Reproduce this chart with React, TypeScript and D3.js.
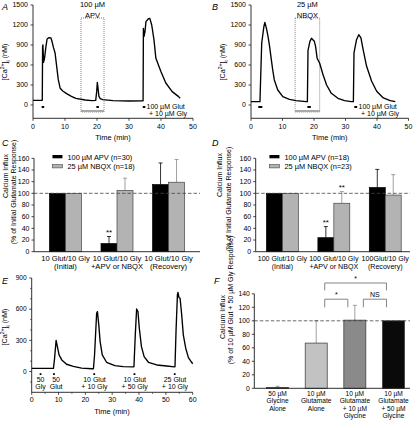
import React from 'react';
import * as d3 from 'd3';

const FONT = '"Liberation Sans", Arial, Helvetica, sans-serif';

// ---------- Panel A (APV) trace ----------
const traceATime = [0, 2.9, 3.0, 3.1, 3.3, 3.6, 4.0, 4.4, 5.0, 5.6, 5.9, 6.4, 6.9, 7.4, 7.9, 8.5, 9.3, 10.5, 12, 13.4, 16.3, 18.4, 19.6, 19.9, 20.1, 20.3, 20.6, 21.0, 21.8, 25, 30, 34.4, 34.5, 34.7, 35.0, 35.3, 36.0, 36.5, 37.1, 37.8, 38.4, 40.0, 41.5, 43.5, 45.5, 46.0];
const traceAConc = [70, 70, 880, 900, 640, 700, 860, 990, 1010, 1005, 960, 860, 780, 580, 380, 250, 210, 170, 130, 100, 75, 65, 70, 200, 340, 260, 130, 95, 80, 65, 60, 62, 1150, 1030, 1100, 1250, 1290, 1300, 1200, 980, 700, 500, 330, 200, 125, 100];
const traceAStimuli = [[2.7, 3.5], [19.8, 20.6], [34.3, 35.1]];
const traceAWindow = [15, 22.2];

// ---------- Panel B (NBQX) trace ----------
const traceBTime = [0, 2.85, 3.0, 3.4, 4.1, 4.4, 4.9, 5.4, 5.9, 6.4, 6.9, 7.4, 8.5, 10.1, 12.2, 14.3, 17.5, 17.9, 18.1, 18.7, 19.2, 20.1, 20.5, 21.0, 21.8, 22.9, 24.0, 25.5, 27.6, 29.7, 31.8, 32.5, 32.7, 33.5, 34.2, 34.9, 35.6, 36.7, 38.3, 39.9, 42.0, 44.2, 45.8];
const traceBConc = [50, 50, 300, 930, 1180, 1240, 1150, 1030, 880, 700, 525, 375, 225, 125, 85, 65, 50, 50, 820, 955, 1000, 955, 880, 700, 625, 450, 300, 175, 100, 65, 50, 50, 780, 980, 1055, 1005, 830, 580, 355, 205, 105, 65, 50];
const traceBStimuli = [[2.3, 3.6], [17.9, 19.0], [32.8, 33.7]];
const traceBWindow = [14, 21.8];

const timeTicks = [0, 10, 20, 30, 40, 50];
const concTicks = [0, 300, 600, 900, 1200, 1500];

// ---------- Panel C ----------
const groupsC = ['Initial', 'Drug', 'Recovery'];
const groupLabelsC = [['10 Glut/10 Gly', '(Initial)'], ['10 Glut/10 Gly', '+APV or NBQX'], ['10 Glut/10 Gly', '(Recovery)']];
const apvC = [100, 14, 115];
const apvErrC = [0, 12, 37];
const nbqxC = [100, 105, 119];
const nbqxErrC = [0, 21, 39];
const sigC = [{ group: 'Drug', series: 'apv', label: '**' }];
const legendC = ['100 µM APV (n=30)', '25 µM NBQX (n=18)'];

// ---------- Panel D ----------
const groupsD = ['Initial', 'Drug', 'Recovery'];
const groupLabelsD = [['100 Glut/10 Gly', '(Initial)'], ['100 Glut/10 Gly', '+APV or NBQX'], ['100Glut/10 Gly', '(Recovery)']];
const apvD = [100, 24, 110];
const apvErrD = [0, 19, 31];
const nbqxD = [100, 83, 97];
const nbqxErrD = [0, 20, 35];
const sigD = [{ group: 'Drug', series: 'apv', label: '**' }, { group: 'Drug', series: 'nbqx', label: '**' }];
const legendD = ['100 µM APV (n=18)', '25 µM NBQX (n=23)'];

const pctTicks = [0, 20, 40, 60, 80, 100, 120, 140, 160];

// ---------- Panel E trace ----------
const traceETime = [0, 8.1, 8.5, 9.1, 9.5, 10.2, 11.2, 13.0, 15.5, 18.6, 22.4, 23.0, 23.4, 24.2, 24.5, 25.0, 25.5, 26.3, 27.9, 31.0, 34.1, 37.9, 38.1, 38.6, 39.1, 39.6, 40.1, 40.9, 41.9, 43.5, 46.6, 50.3, 53.2, 53.4, 53.8, 54.3, 54.5, 54.9, 55.3, 55.9, 56.5, 57.4, 58.4, 59.6, 60.0];
const traceEConc = [30, 30, 120, 300, 250, 160, 112, 70, 50, 32, 27, 27, 150, 560, 576, 449, 288, 160, 89, 57, 47, 45, 47, 350, 602, 576, 417, 240, 143, 89, 63, 53, 45, 47, 400, 737, 762, 711, 705, 545, 353, 224, 134, 89, 75];
const stimTimesE = [3.3, 8.3, 23.3, 38.3, 53.3];
const stimLabelTimesE = [3.3, 9.1, 23.4, 38.4, 53.4];
const stimLine1E = ['50', '50', '10 Glut', '10 Glut', '25 Glut'];
const stimLine2E = ['Gly', 'Glut', '+ 10 Gly', '+ 50 Gly', '+ 10 Gly'];
const timeTicksE = [0, 10, 20, 30, 40, 50, 60];
const timeMinorE = [5, 15, 25, 35, 45, 55];
const concTicksE = [0, 300, 600, 900];
const concMinorE = [-100, 100, 200, 400, 500, 700, 800];

// ---------- Panel F ----------
const catsF = ['gly', 'glut', 'glut10', 'glut50'];
const catLabelsF = [['50 µM', 'Glycine', 'Alone'], ['10 µM', 'Glutamate', 'Alone'], ['10 µM', 'Glutamate', '+ 10 µM', 'Glycine'], ['10 µM', 'Glutamate', '+ 50 µM', 'Glycine']];
const valuesF = [1, 67, 101, 100];
const errF = [2, 33, 22, 0];
const colorsF = ['#111111', '#c2c2c2', '#8a8a8a', '#0a0a0a'];
const bracketsF = [
  { from: 'glut', to: 'glut50', level: 156, leg: 145, label: '*' },
  { from: 'glut', to: 'glut10', level: 132, leg: 120, label: '*' },
  { from: 'glut10', to: 'glut50', level: 132, leg: 120, label: 'NS' },
];
const pctTicksF = [0, 20, 40, 60, 80, 100, 120, 140];

const AX = '#1a1a1a';
const TX = '#000';

function CaLabel({ x, y, size = 7.2 }: { x: number; y: number; size?: number }) {
  return (
    <text transform={`translate(${x},${y}) rotate(-90)`} textAnchor="middle" fontSize={size} fontFamily={FONT} fill={TX}>
      {'[Ca'}
      <tspan baselineShift="super" fontSize={size * 0.7}>2+</tspan>
      <tspan>{']'}</tspan>
      <tspan baselineShift="sub" fontSize={size * 0.7}>i</tspan>
      <tspan>{' (nM)'}</tspan>
    </text>
  );
}

function YAxis({ scale, x, ticks, minor = [], fs = 7, gap = 5 }: any) {
  const [r0, r1] = scale.range();
  return (
    <g>
      <line x1={x} x2={x} y1={r0} y2={r1} stroke={AX} strokeWidth={0.9} />
      {ticks.map((t: number) => (
        <g key={t}>
          <line x1={x - 2.5} x2={x} y1={scale(t)} y2={scale(t)} stroke={AX} strokeWidth={0.8} />
          <text x={x - gap} y={scale(t)} dy="0.35em" textAnchor="end" fontSize={fs} fontFamily={FONT} fill={TX}>{t}</text>
        </g>
      ))}
      {minor.map((t: number) => (
        <line key={'m' + t} x1={x - 1.5} x2={x} y1={scale(t)} y2={scale(t)} stroke={AX} strokeWidth={0.7} />
      ))}
    </g>
  );
}

function XAxis({ scale, y, ticks, minor = [], fs = 7, gap = 10.5 }: any) {
  const [r0, r1] = scale.range();
  return (
    <g>
      <line x1={r0} x2={r1} y1={y} y2={y} stroke={AX} strokeWidth={0.9} />
      {ticks.map((t: number) => (
        <g key={t}>
          <line x1={scale(t)} x2={scale(t)} y1={y} y2={y + 2.5} stroke={AX} strokeWidth={0.8} />
          <text x={scale(t)} y={y + gap} textAnchor="middle" fontSize={fs} fontFamily={FONT} fill={TX}>{t}</text>
        </g>
      ))}
      {minor.map((t: number) => (
        <line key={'m' + t} x1={scale(t)} x2={scale(t)} y1={y} y2={y + 1.5} stroke={AX} strokeWidth={0.7} />
      ))}
    </g>
  );
}

function TracePanel({ letter, letterX, xs, ys, times, concs, stimuli, windowT, title, legendX, labelX }: any) {
  const line = d3.line<number>().x((i) => xs(times[i])).y((i) => ys(concs[i]));
  const idx = times.map((_: number, i: number) => i);
  const [x0, x1] = xs.range();
  const cx = (xs(windowT[0]) + xs(windowT[1])) / 2;
  return (
    <g fontFamily={FONT}>
      <text x={letterX} y={10} fontSize={9} fontStyle="italic" fill={TX}>{letter}</text>
      <rect x={xs(windowT[0])} y={ys(1305)} width={xs(windowT[1]) - xs(windowT[0])} height={ys(-105) - ys(1305)} fill="none" stroke="#555" strokeWidth={0.7} strokeDasharray="1,1" />
      <line x1={xs(windowT[0])} x2={xs(windowT[1])} y1={ys(-90)} y2={ys(-90)} stroke="#999" strokeWidth={1.6} />
      <text x={cx} y={6.5} textAnchor="middle" fontSize={7.5} fill={TX}>{title[0]}</text>
      <text x={cx} y={17.5} textAnchor="middle" fontSize={7.5} fill={TX}>{title[1]}</text>
      <path d={line(idx) || ''} fill="none" stroke="#000" strokeWidth={1.35} strokeLinejoin="round" />
      {stimuli.map((s: number[], i: number) => (
        <line key={i} x1={xs(s[0])} x2={xs(s[1])} y1={ys(-30)} y2={ys(-30)} stroke="#000" strokeWidth={2} />
      ))}
      <text x={legendX} y={108.7} fontSize={7} fill={TX}>100 µM Glut</text>
      <text x={legendX + 2.5} y={116} fontSize={7} fill={TX}>+ 10 µM Gly</text>
      <YAxis scale={ys} x={x0} ticks={concTicks} />
      <XAxis scale={xs} y={ys(-200)} ticks={timeTicks} />
      <text x={(x0 + x1) / 2} y={139.5} textAnchor="middle" fontSize={7.5} fill={TX}>Time (min)</text>
      <CaLabel x={labelX} y={62} />
    </g>
  );
}

function BarPanel({ letter, letterX, groups, groupLabels, apv, apvErr, nbqx, nbqxErr, sig, legend, xRange, po, align, ylab1X, ylab2X, ylab1Y, ylab2Y, labFs }: any) {
  const y = d3.scaleLinear().domain([0, 160]).range([251.7, 158.3]);
  const xg = d3.scaleBand<string>().domain(groups).range(xRange).paddingInner(0.38).paddingOuter(po).align(align);
  const xs = d3.scaleBand<string>().domain(['apv', 'nbqx']).range([0, xg.bandwidth()]);
  const series = [
    { key: 'apv', vals: apv, errs: apvErr, fill: '#000', stroke: '#000', err: '#000' },
    { key: 'nbqx', vals: nbqx, errs: nbqxErr, fill: '#b3b3b3', stroke: '#444', err: '#888' },
  ];
  const bw = xs.bandwidth();
  const lx = xg(groups[0])! + 3;
  return (
    <g fontFamily={FONT}>
      <text x={letterX} y={146} fontSize={9} fontStyle="italic" fill={TX}>{letter}</text>
      {series.map((s) => groups.map((g: string, i: number) => {
        const bx = xg(g)! + xs(s.key)!;
        const top = y(s.vals[i]);
        const et = y(s.vals[i] + s.errs[i]);
        return (
          <g key={s.key + g}>
            {s.errs[i] > 0 && (
              <g>
                <line x1={bx + bw / 2} x2={bx + bw / 2} y1={top} y2={et} stroke={s.err} strokeWidth={0.8} />
                <line x1={bx + bw / 2 - 2} x2={bx + bw / 2 + 2} y1={et} y2={et} stroke={s.err} strokeWidth={0.8} />
              </g>
            )}
            <rect x={bx} y={top} width={bw} height={y(0) - top} fill={s.fill} stroke={s.stroke} strokeWidth={0.7} />
          </g>
        );
      }))}
      <line x1={xRange[0]} x2={xRange[1]} y1={y(100)} y2={y(100)} stroke="#444" strokeWidth={0.8} strokeDasharray="3.5,2" />
      {sig.map((s: any, i: number) => {
        const ser = series.find((q) => q.key === s.series)!;
        const gi = groups.indexOf(s.group);
        return (
          <text key={i} x={xg(s.group)! + xs(s.series)! + bw / 2} y={y(ser.vals[gi] + ser.errs[gi]) - 1.8} textAnchor="middle" fontSize={8} fill={TX}>{s.label}</text>
        );
      })}
      <YAxis scale={y} x={xRange[0]} ticks={pctTicks} fs={7} gap={4.5} />
      <line x1={xRange[0]} x2={xRange[1]} y1={y(0)} y2={y(0)} stroke={AX} strokeWidth={0.9} />
      {groupLabels.map((gl: string[], i: number) => (
        <g key={i}>
          <text x={xg(groups[i])! + xg.bandwidth() / 2} y={260.5} textAnchor="middle" fontSize={labFs} fill={TX}>{gl[0]}</text>
          <text x={xg(groups[i])! + xg.bandwidth() / 2} y={269.3} textAnchor="middle" fontSize={labFs} fill={TX}>{gl[1]}</text>
        </g>
      ))}
      <rect x={lx} y={155} width={10} height={3.3} fill="#000" />
      <rect x={lx} y={164.6} width={10} height={3.3} fill="#b3b3b3" stroke="#444" strokeWidth={0.6} />
      <text x={lx + 15} y={159.5} fontSize={7.4} fill={TX}>{legend[0]}</text>
      <text x={lx + 15} y={169} fontSize={7.4} fill={TX}>{legend[1]}</text>
      <text transform={`translate(${ylab1X},${ylab1Y}) rotate(-90)`} textAnchor="middle" fontSize={7} fill={TX}>Calcium Influx</text>
      <text transform={`translate(${ylab2X},${ylab2Y}) rotate(-90)`} textAnchor="middle" fontSize={7} fill={TX}>(% of Initial Glutamate Response)</text>
    </g>
  );
}

function PanelE() {
  const xs = d3.scaleLinear().domain([0, 60]).range([31.7, 192.7]);
  const ys = d3.scaleLinear().domain([-200, 900]).range([392.3, 278]);
  const line = d3.line<number>().x((i) => xs(traceETime[i])).y((i) => ys(traceEConc[i]));
  const idx = traceETime.map((_, i) => i);
  return (
    <g fontFamily={FONT}>
      <text x={2} y={284} fontSize={9} fontStyle="italic" fill={TX}>E</text>
      <path d={line(idx) || ''} fill="none" stroke="#000" strokeWidth={1.35} strokeLinejoin="round" />
      {stimTimesE.map((t, i) => (
        <rect key={i} x={xs(t) - 0.9} y={ys(-25) - 0.9} width={1.8} height={1.8} fill="#000" />
      ))}
      {stimLabelTimesE.map((t, i) => (
        <g key={'l' + i}>
          <text x={xs(t)} y={381.5} textAnchor="middle" fontSize={7} fill={TX}>{stimLine1E[i]}</text>
          <text x={xs(t)} y={389} textAnchor="middle" fontSize={7} fill={TX}>{stimLine2E[i]}</text>
        </g>
      ))}
      <YAxis scale={ys} x={31.7} ticks={concTicksE} minor={concMinorE} fs={6.6} gap={5} />
      <XAxis scale={xs} y={392.3} ticks={timeTicksE} minor={timeMinorE} fs={7} gap={9.5} />
      <text x={112} y={414} textAnchor="middle" fontSize={7.5} fill={TX}>Time (min)</text>
      <CaLabel x={7} y={327} />
    </g>
  );
}

function PanelF() {
  const y = d3.scaleLinear().domain([0, 140]).range([388.3, 293.8]);
  const x = d3.scaleBand<string>().domain(catsF).range([254.3, 410]).paddingInner(0.43).paddingOuter(0.23).align(0.69);
  const bw = x.bandwidth();
  const cx = (c: string) => x(c)! + bw / 2;
  return (
    <g fontFamily={FONT}>
      <text x={214} y={284} fontSize={9} fontStyle="italic" fill={TX}>F</text>
      {catsF.map((c, i) => {
        const top = y(valuesF[i]);
        const et = y(valuesF[i] + errF[i]);
        return (
          <g key={c}>
            {errF[i] > 0 && (
              <g>
                <line x1={cx(c)} x2={cx(c)} y1={top} y2={et} stroke="#888" strokeWidth={0.8} />
                <line x1={cx(c) - 2} x2={cx(c) + 2} y1={et} y2={et} stroke="#888" strokeWidth={0.8} />
              </g>
            )}
            <rect x={x(c)} y={top} width={bw} height={y(0) - top} fill={colorsF[i]} stroke="#333" strokeWidth={0.7} />
          </g>
        );
      })}
      <line x1={254.3} x2={410} y1={y(100)} y2={y(100)} stroke="#444" strokeWidth={0.8} strokeDasharray="3.5,2" />
      <YAxis scale={y} x={254.3} ticks={pctTicksF} fs={6.8} gap={4.5} />
      <line x1={254.3} x2={410} y1={y(0)} y2={y(0)} stroke={AX} strokeWidth={0.9} />
      {bracketsF.map((b, i) => {
        const xl = cx(b.from) + 8.5;
        const xr = cx(b.to) - 7;
        return (
          <g key={i}>
            <path d={`M${xl},${y(b.leg)}V${y(b.level)}H${xr}V${y(b.leg)}`} fill="none" stroke="#777" strokeWidth={0.9} />
            <text x={(xl + xr) / 2} y={y(b.level) - 2.5} textAnchor="middle" fontSize={7} fill={TX}>{b.label}</text>
          </g>
        );
      })}
      {catLabelsF.map((ls, i) => ls.map((l, j) => (
        <text key={i + '-' + j} x={cx(catsF[i])} y={396 + j * 7.3} textAnchor="middle" fontSize={6.6} fill={TX}>{l}</text>
      )))}
      <text transform="translate(225,317) rotate(-90)" textAnchor="middle" fontSize={7} fill={TX}>Calcium Influx</text>
      <text transform="translate(233,300) rotate(-90)" textAnchor="middle" fontSize={7} fill={TX}>(% of 10 µM Glut + 50 µM Gly Response)</text>
    </g>
  );
}

export default function App() {
  const xA = d3.scaleLinear().domain([0, 50]).range([33, 193]);
  const yA = d3.scaleLinear().domain([-200, 1500]).range([118.3, 5]);
  const xB = d3.scaleLinear().domain([0, 50]).range([251, 408.5]);
  const yB = d3.scaleLinear().domain([-200, 1500]).range([118.3, 5]);
  return (
    <svg width={420} height={428} viewBox="0 0 420 428" style={{ position: 'absolute', left: 0, top: 0, background: '#fff' }}>
      <rect x={0} y={0} width={420} height={428} fill="#fff" />
      <TracePanel letter="A" letterX={2} xs={xA} ys={yA} times={traceATime} concs={traceAConc} stimuli={traceAStimuli} windowT={traceAWindow} title={['100 µM', 'APV']} legendX={146.5} labelX={7} />
      <TracePanel letter="B" letterX={212} xs={xB} ys={yB} times={traceBTime} concs={traceBConc} stimuli={traceBStimuli} windowT={traceBWindow} title={['25 µM', 'NBQX']} legendX={358.5} labelX={225} />
      <BarPanel letter="C" letterX={2} groups={groupsC} groupLabels={groupLabelsC} apv={apvC} apvErr={apvErrC} nbqx={nbqxC} nbqxErr={nbqxErrC} sig={sigC} legend={legendC} xRange={[34, 200]} po={0.3} align={0.5} ylab1X={7.5} ylab2X={15.5} ylab1Y={176} ylab2Y={192} labFs={7.6} />
      <BarPanel letter="D" letterX={212} groups={groupsD} groupLabels={groupLabelsD} apv={apvD} apvErr={apvErrD} nbqx={nbqxD} nbqxErr={nbqxErrD} sig={sigD} legend={legendD} xRange={[255.7, 410]} po={0.19} align={0.55} ylab1X={222} ylab2X={231} ylab1Y={175} ylab2Y={199} labFs={7.1} />
      <PanelE />
      <PanelF />
    </svg>
  );
}
